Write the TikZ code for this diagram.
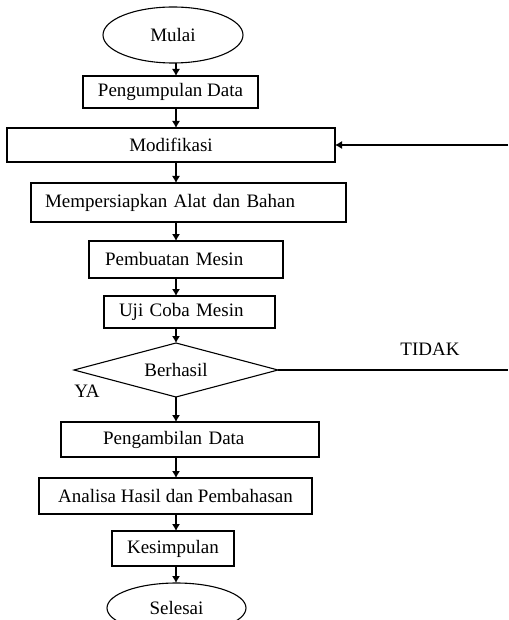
\documentclass[tikz,border=0pt]{standalone}
\usepackage{fontspec}
\setmainfont{Liberation Serif}
\usetikzlibrary{positioning,shapes.geometric,arrows.meta}

\begin{document}
\begin{tikzpicture}[
      x=1pt, y=-1pt,
      line width=1.1pt,
      every node/.style = {align=center, outer sep=0pt, font=\fontsize{19}{22}\selectfont},
      stepbox/.style    = {draw, rectangle, inner sep=0pt},
      terminal/.style   = {draw, ellipse, inner sep=0pt, minimum width=140pt, minimum height=56pt},
      decision/.style   = {draw, diamond, aspect=3.8, inner sep=0pt},
      flow/.style       = {-{Latex[length=7pt,width=8pt]}}
    ]
    \useasboundingbox (0,0) rectangle (508,620);
    \clip (0,0) rectangle (508,620);

    \node (mulai)         [terminal] at (173,35)                                                     {Mulai};
    \node (pengumpulan)   [stepbox, minimum width=175pt, minimum height=32pt, below=13pt of mulai, xshift=-2.5pt]          {Pengumpulan Data};
    \node (modifikasi)    [stepbox, minimum width=328pt, minimum height=34pt, below=20pt of pengumpulan, xshift=0.5pt]     {Modifikasi};
    \node (persiapan)     [stepbox, minimum width=315pt, minimum height=39pt, text width=287pt, align=left, inner xsep=14pt,
                           below=21pt of modifikasi, xshift=17.5pt]                                   {Mempersiapkan Alat dan Bahan};
    \node (pembuatan)     [stepbox, minimum width=194pt, minimum height=37pt, text width=162pt, align=left, inner xsep=16pt,
                           below=19pt of persiapan, xshift=-2.5pt]                                    {Pembuatan Mesin};
    \node (ujicoba)       [stepbox, minimum width=171pt, minimum height=32pt, text width=141pt, align=left, inner xsep=15pt,
                           below=18pt of pembuatan, xshift=3.5pt]                                     {Uji Coba Mesin};
    \node (berhasil)      [decision, minimum width=204pt, minimum height=54pt, below=15pt of ujicoba, xshift=-13.5pt] {Berhasil};
    \node (pengambilan)   [stepbox, minimum width=258pt, minimum height=35pt, text width=174pt, align=left, inner xsep=42pt,
                           below=25pt of berhasil, xshift=14pt]                                       {Pengambilan Data};
    \node (analisa)       [stepbox, minimum width=273pt, minimum height=36pt, below=21pt of pengambilan, xshift=-14.5pt]  {Analisa Hasil dan Pembahasan};
    \node (kesimpulan)    [stepbox, minimum width=122pt, minimum height=35pt, below=17pt of analisa, xshift=-2.5pt]       {Kesimpulan};
    \node (selesai)       [terminal, minimum width=139pt, minimum height=50pt, below=17pt of kesimpulan, xshift=3.5pt]    {Selesai};

    \node (ya)    at (87,391)  {YA};
    \node (tidak) at (430,349) {TIDAK};

    \coordinate (poros) at (176,0);
    \coordinate (tepi)  at (508,0);

    \draw[flow] (mulai.south -| poros)       to (pengumpulan.north -| poros);
    \draw[flow] (pengumpulan.south -| poros) to (modifikasi.north -| poros);
    \draw[flow] (modifikasi.south -| poros)  to (persiapan.north -| poros);
    \draw[flow] (persiapan.south -| poros)   to (pembuatan.north -| poros);
    \draw[flow] (pembuatan.south -| poros)   to (ujicoba.north -| poros);
    \draw[flow] (ujicoba.south -| poros)     to (berhasil.north);
    \draw[flow] (berhasil.south)             to (pengambilan.north -| poros);
    \draw[flow] (pengambilan.south -| poros) to (analisa.north -| poros);
    \draw[flow] (analisa.south -| poros)     to (kesimpulan.north -| poros);
    \draw[flow] (kesimpulan.south -| poros)  to (selesai.north -| poros);

    \draw       (berhasil.east)              to (berhasil.east -| tepi);
    \draw[flow] (modifikasi.east -| tepi)    to (modifikasi.east);

  \end{tikzpicture}
\end{document}
